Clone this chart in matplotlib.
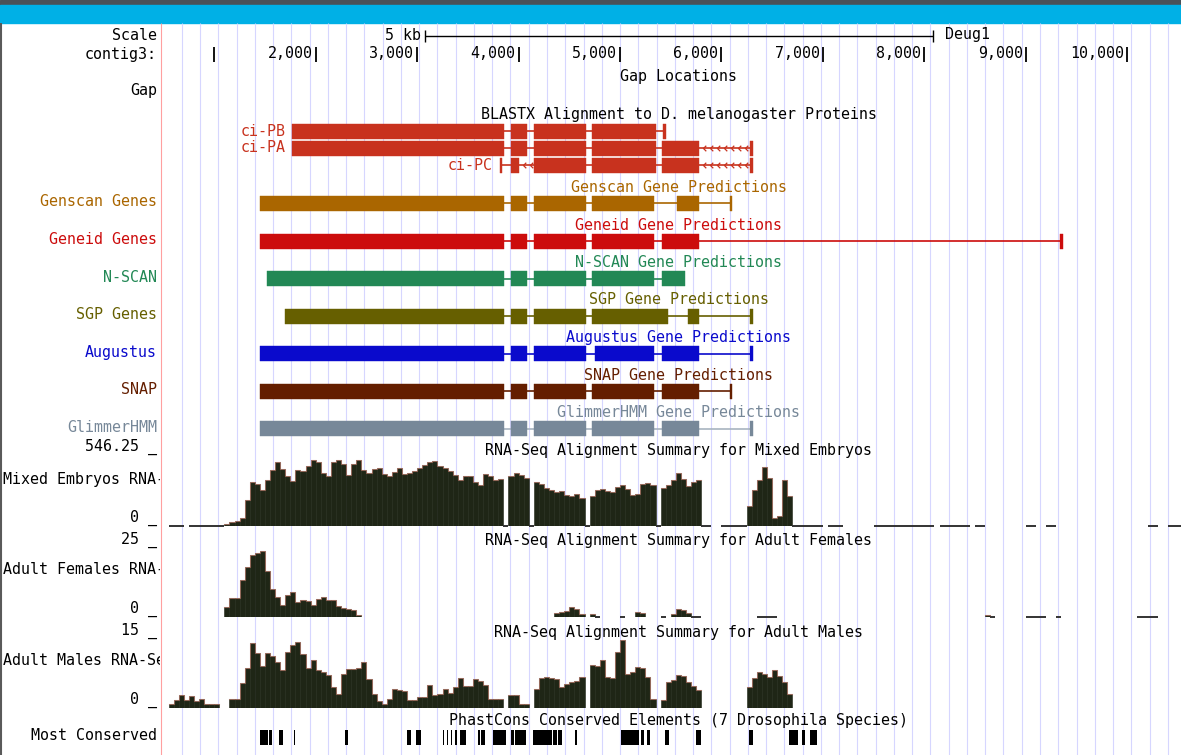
import numpy as np
import matplotlib
matplotlib.use('Agg')
import matplotlib.pyplot as plt
from matplotlib.patches import Rectangle

plt.rcParams['font.family'] = 'DejaVu Sans Mono'
plt.rcParams['font.size'] = 10.8

nan = np.nan
W, H = 1181, 755
view = (465, 10530)          # bp shown between pixel 160 and the right edge

# ruler
tick_pos = [1000, 2000, 3000, 4000, 5000, 6000, 7000, 8000, 9000, 10000]
tick_labels = ['', '2,000', '3,000', '4,000', '5,000', '6,000', '7,000', '8,000', '9,000', '10,000']
scale_bar = (3081, 8081)

# BLASTX alignments (bp)
ci_pb = [(1762, 3856), (3921, 4083), (4147, 4665), (4724, 5355), (5425, 5450)]
ci_pa = [(1762, 3856), (3921, 4083), (4147, 4665), (4724, 5355), (5414, 5782), (6286, 6311)]
ci_pc = [(3812, 3841), (3921, 4004), (4147, 4665), (4724, 5355), (5414, 5782), (6286, 6311)]

# gene predictions (bp)
genscan = [(1446, 3856), (3921, 4083), (4147, 4665), (4724, 5335), (5562, 5782), (6080, 6105)]
geneid = [(1446, 3856), (3921, 4083), (4147, 4665), (4724, 5335), (5414, 5782), (9342, 9367)]
nscan = [(1520, 3856), (3921, 4083), (4147, 4665), (4724, 5335), (5414, 5645)]
sgp = [(1697, 3856), (3921, 4083), (4147, 4665), (4724, 5468), (5668, 5782), (6286, 6311)]
augustus = [(1446, 3856), (3921, 4083), (4147, 4665), (4758, 5335), (5414, 5782), (6286, 6311)]
snap = [(1446, 3856), (3921, 4083), (4147, 4665), (4724, 5335), (5414, 5782), (6080, 6105)]
glimmer = [(1446, 3856), (3921, 4083), (4147, 4665), (4724, 5335), (5414, 5782), (6286, 6311)]

# RNA-seq coverage, 50 bp bins from 500 bp (NaN = no data, 0 = zero coverage)
bin_start, bin_size = 500, 50
embryo_cov = ([nan] + [0] * 3 + [nan] + [0] * 7 +
              [15, 30, 37, 60, 194, 329, 314, 269, 344, 419, 479, 426, 374, 337, 419, 411,
               449, 494, 479, 396, 374, 479, 494, 464, 381, 464, 494, 419, 396, 426, 434, 389,
               374, 404, 434, 389, 396, 411, 434, 456, 479, 486, 449, 434, 411, 381, 344, 374,
               374, 329, 307, 389, 374, 344, 352, 0, 374, 396, 381, 359, 0, 329, 314, 284,
               269, 254, 262, 232, 224, 239, 209, 0, 224, 269, 277, 262, 254, 292, 307, 277,
               232, 239, 314, 322, 307, 0, 284, 307, 344, 396, 352, 299, 329, 344, 0, 0] +
              [nan] * 2 + [0] * 5 +
              [150, 269, 344, 441, 359, 60, 75, 344, 224] +
              [0] * 6 + [nan] + [0] * 3 + [nan] * 6 + [0] * 12 + [nan] + [0] * 6 + [nan] +
              [0] * 2 + [nan] * 8 + [0] * 2 + [nan] * 2 + [0] * 2 + [nan] * 18 + [0] * 2 +
              [nan] * 2 + [0] * 3)
female_cov = ([nan] * 12 +
              [3.3, 6.3, 6.3, 12.3, 16.7, 20.7, 21.3, 22.0, 15.3, 9.3, 6.7, 4.0, 7.3, 8.3,
               5.0, 5.7, 5.3, 4.0, 6.0, 6.7, 5.7, 5.7, 3.7, 3.0, 2.7, 2.3, 0.7] +
              [nan] * 38 + [1.3, 1.7, 2.0, 3.3, 2.7, 1.0, nan, 1.0, 0] + [nan] * 4 + [0] +
              [nan] * 2 + [1.7, 1.3] + [nan] * 3 + [0, nan, 1.0, 2.7, 2.3, 1.3, 0, 0] +
              [nan] * 11 + [0] * 4 + [nan] * 41 + [0.7, 0] + [nan] * 6 + [0] * 4 +
              [nan] * 2 + [0] + [nan] * 15 + [0] * 4 + [nan] * 5)
male_cov = ([nan, 0.8, 1.6, 2.6, 1.6, 2.4, 1.4, 1.8, 0.8, 0.8, 0.8, nan, nan, 1.8, 1.8,
             5.0, 8.0, 13.0, 11.0, 8.4, 11.0, 10.4, 9.2, 7.6, 11.2, 12.6, 13.2, 10.8, 8.0,
             9.6, 7.6, 7.2, 6.6, 4.2, 2.8, 6.8, 7.8, 7.8, 8.0, 9.2, 5.8, 2.8, 1.4, 0.8, 1.8,
             3.8, 3.6, 3.4, 1.6, 1.6, 2.2, 2.2, 4.6, 2.6, 2.8, 3.8, 3.0, 4.2, 6.0, 4.4, 4.4,
             5.8, 5.4, 4.6, 1.8, 1.8, 1.8, nan, 2.6, 2.6, 0.8, 0.8, nan, 3.8, 6.0, 6.2, 6.0,
             5.8, 4.2, 4.8, 5.2, 5.4, 6.2, nan, 8.6, 8.4, 9.6, 6.2, 6.0, 11.2, 13.6, 6.8,
             7.2, 8.2, 8.0, 6.2, 1.8, nan, 1.6, 5.2, 5.6, 6.6, 6.4, 5.2, 4.4, 3.6] +
            [nan] * 9 + [4.2, 6.0, 7.2, 6.8, 6.2, 7.6, 6.4, 5.2, 2.8] + [nan] * 77)

# phastCons most conserved elements (bp)
conserved = [(1446, 1529), (1540, 1574), (1634, 1680), (1786, 1800), (2291, 2321),
             (2898, 2943), (2993, 3038), (3255, 3268), (3294, 3305), (3332, 3347),
             (3377, 3396), (3426, 3480), (3604, 3615), (3633, 3672), (3743, 3875),
             (3924, 3955), (3966, 4071), (4143, 4328), (4339, 4377), (4389, 4426),
             (4558, 4573), (5010, 5183), (5210, 5240), (5266, 5294), (5443, 5482),
             (5747, 5795), (6268, 6313), (6665, 6752), (6789, 6820), (6873, 6941)]

title_x = 5581
dark = '#1f2616'

fig = plt.figure(figsize=(W / 100, H / 100), dpi=100, facecolor='white')

# background: header bands, borders
bg = fig.add_axes([0, 0, 1, 1])
bg.set_xlim(0, W)
bg.set_ylim(H, 0)
bg.axis('off')
bg.add_patch(Rectangle((0, 0), W, 4.5, color='#4b5157'))
bg.add_patch(Rectangle((0, 4.5), W, 18.5, color='#00b0e6'))
bg.vlines(1, 23, H, color='#5a5a5a', lw=1.5)
bg.vlines(160.5, 23, H, color='#ffa0a0', lw=0.8)

# main track area, x in bp, y in pixel rows
ax = fig.add_axes([160 / W, 0, 1 - 160 / W, 1])
ax.set_xlim(*view)
ax.set_ylim(H, 0)
ax.axis('off')
ax.patch.set_alpha(0)
ax.vlines(np.arange(680, view[1], 180), 23, H, color='#d6d6ff', lw=0.8, zorder=0)

# scale + ruler
ax.hlines(36, *scale_bar, color='k', lw=1)
ax.vlines(scale_bar, 30, 42, color='k', lw=1)
ax.text(scale_bar[0] - 45, 36, '5 kb', ha='right', va='center')
ax.text(scale_bar[1] + 120, 35, 'Deug1', ha='left', va='center')
ax.vlines(tick_pos, 47, 62, color='k', lw=1.3)
for p, lab in zip(tick_pos, tick_labels):
    ax.text(p - 30, 54, lab, ha='right', va='center')

ax.text(title_x, 77, 'Gap Locations', ha='center', va='center')


def draw_gene(exons, y, color, h=15, line_color=None, lw=1.2):
    ax.hlines(y, exons[0][0], exons[-1][1], color=line_color or color, lw=lw, zorder=2)
    ax.broken_barh([(s, e - s) for s, e in exons], (y - h / 2, h),
                   facecolors=color, edgecolor=color, lw=0.3, zorder=3)


def chevrons(start, end, y, color):
    xs = np.arange(start + 40, end - 20, 68)
    ax.plot(xs, [y] * len(xs), ls='none', marker=[(1, 1), (0, 0), (1, -1)],
            ms=4, mfc='none', mec=color, mew=0.9, zorder=4)


blastx = '#c8321e'
ax.text(title_x, 115, 'BLASTX Alignment to D. melanogaster Proteins', ha='center', va='center')
for exons, y, name, lx in [(ci_pb, 131, 'ci-PB', 1707), (ci_pa, 148, 'ci-PA', 1707),
                           (ci_pc, 165, 'ci-PC', 3748)]:
    draw_gene(exons, y, blastx)
    ax.text(lx, y, name, ha='right', va='center', color=blastx)
    for (s0, e0), (s1, e1) in zip(exons[:-1], exons[1:]):
        if s1 - e0 > 120:
            chevrons(e0, s1, y, blastx)

tracks = [
    (genscan, 'Genscan', '#aa6600', 'Genscan Genes'),
    (geneid, 'Geneid', '#cc0c0c', 'Geneid Genes'),
    (nscan, 'N-SCAN', '#228855', 'N-SCAN'),
    (sgp, 'SGP', '#665f00', 'SGP Genes'),
    (augustus, 'Augustus', '#0a0acc', 'Augustus'),
    (snap, 'SNAP', '#641e00', 'SNAP'),
    (glimmer, 'GlimmerHMM', '#778899', 'GlimmerHMM'),
]
rows = [203, 241, 278.5, 316, 353.5, 391, 428.5]

# left labels
lab = fig.add_axes([0, 0, 160 / W, 1])
lab.set_xlim(0, 160)
lab.set_ylim(H, 0)
lab.axis('off')
lab.patch.set_alpha(0)


def left(y, s, color='k', ha='right'):
    x = 157 if ha == 'right' else 3
    lab.text(x, y, s, ha=ha, va='center', color=color, clip_on=True)


left(36, 'Scale')
left(54, 'contig3:')
left(91, 'Gap')

for (exons, name, color, short), y in zip(tracks, rows):
    lc = '#a8b4c0' if name == 'GlimmerHMM' else color
    draw_gene(exons, y, color, line_color=lc)
    ax.text(title_x, y - 16, name + ' Gene Predictions', ha='center', va='center', color=color)
    left(y - 1.5, short, color)

# RNA-seq wiggles
wig_specs = [
    (embryo_cov, 453, 526, 546.25, 'Mixed Embryos', '546.25 _', 450, 447),
    (female_cov, 542, 617, 25, 'Adult Females', '25 _', 541, 540),
    (male_cov, 633, 708, 15, 'Adult Males', '15 _', 632, 631),
]
for cov, top, base, vmax, name, toplab, ty, ly in wig_specs:
    cov = np.asarray(cov, float)
    lefts = bin_start + bin_size * np.arange(len(cov))
    wax = fig.add_axes([160 / W, 1 - base / H, 1 - 160 / W, (base - top) / H])
    wax.set_xlim(*view)
    wax.set_ylim(0, vmax)
    wax.axis('off')
    wax.patch.set_alpha(0)
    pos = cov > 0
    wax.bar(lefts[pos], cov[pos], width=bin_size, align='edge', color=dark,
            edgecolor=dark, lw=0.4, zorder=3)
    top_line = np.where(pos, cov, nan)
    wax.step(lefts, top_line, where='post', color='#c07868', lw=0.8, alpha=0.6, zorder=4)
    zero = cov == 0
    wax.hlines(np.zeros(zero.sum()), lefts[zero], lefts[zero] + bin_size,
               color='#333333', lw=1.4, clip_on=False, zorder=3)
    ax.text(title_x, ty, 'RNA-Seq Alignment Summary for ' + name, ha='center', va='center')
    left(ly, toplab)
    left((top + base) / 2 - 10, name + ' RNA-Seq', ha='left')
    left(base - 8, '0 _')

# conservation
ax.text(title_x, 721, 'PhastCons Conserved Elements (7 Drosophila Species)', ha='center', va='center')
ax.broken_barh([(s, e - s) for s, e in conserved], (730, 15), facecolors='k', zorder=3)
left(736, 'Most Conserved')

fig.savefig('out.png', dpi=100, facecolor='white')
